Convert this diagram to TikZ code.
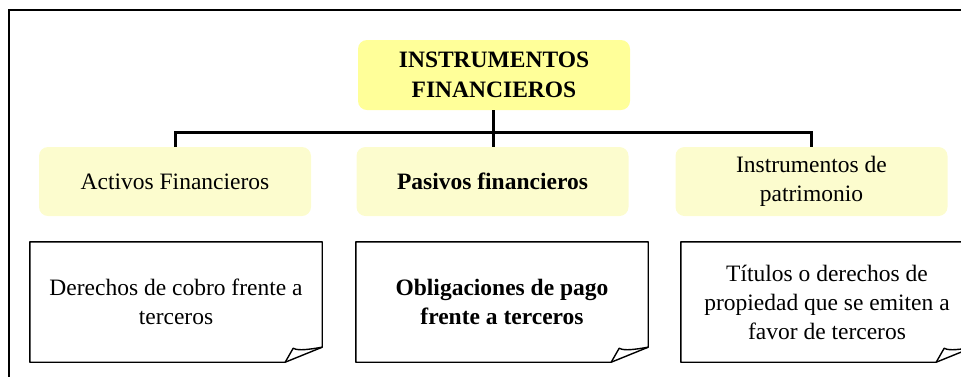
\documentclass[tikz,border=0pt]{standalone}
\usepackage{fontspec}
\setmainfont{Liberation Serif}
\definecolor{titlefill}{RGB}{255,255,153}
\definecolor{catfill}{RGB}{252,252,206}
\begin{document}
\begin{tikzpicture}[x=1pt,y=-1pt,
  titlebox/.style={fill=titlefill,draw=none,rounded corners=9pt,minimum width=272pt,minimum height=70pt,align=center,inner sep=0pt,font=\fontsize{23.5}{29.5}\selectfont\bfseries},
  catbox/.style={fill=catfill,draw=none,rounded corners=9pt,minimum width=272pt,minimum height=69pt,align=center,inner sep=0pt,font=\fontsize{23.5}{29}\selectfont},
  notebox/.style={draw=none,minimum width=292pt,minimum height=120pt,align=center,inner sep=0pt,font=\fontsize{23.5}{29}\selectfont},
  conn/.style={line width=3pt},
  frame/.style={line width=1.3pt},
  paper/.style={line width=1.4pt,line join=round}
]
\useasboundingbox (0,0) rectangle (961,376);
\begin{scope}
\clip (0,0) rectangle (961,376);
% outer frame
\draw[frame] (9,380) -- (9,10) -- (970,10);

\node[titlebox] (title) at (494,75) {INSTRUMENTOS\\FINANCIEROS};
\node[catbox] (act) at (175,181.5) {Activos Financieros};
\node[catbox] (pas) at (492.5,181.5) {\bfseries Pasivos financieros};
\node[catbox] (pat) at (811.5,181.5) {Instrumentos de\\patrimonio};

\coordinate (hub) at (493,132);
\draw[conn] (title.south -| hub) -- (hub);
\draw[conn] (act.north) |- (hub) -| (pat.north);
\draw[conn] (hub) -- (hub |- pas.north);

\node[notebox] (der) at (176,302) {Derechos de cobro frente a\\terceros};
\node[notebox] (obl) at (502,302) {\bfseries Obligaciones de pago\\\bfseries frente a terceros};
\node[notebox] (tit) at (827,302) {Títulos o derechos de\\propiedad que se emiten a\\favor de terceros};

\foreach \n in {der,obl,tit}{
  \draw[paper] (\n.south west) -- (\n.north west) -- (\n.north east)
     -- ([yshift=15pt]\n.south east) -- ([xshift=-37pt]\n.south east) -- cycle;
  \draw[paper] ([xshift=-37pt]\n.south east) -- ([xshift=-29pt,yshift=14pt]\n.south east)
     .. controls ([xshift=-24pt,yshift=11pt]\n.south east) and ([xshift=-12pt,yshift=13pt]\n.south east) .. ([yshift=15pt]\n.south east);
}
\end{scope}
\end{tikzpicture}
\end{document}
